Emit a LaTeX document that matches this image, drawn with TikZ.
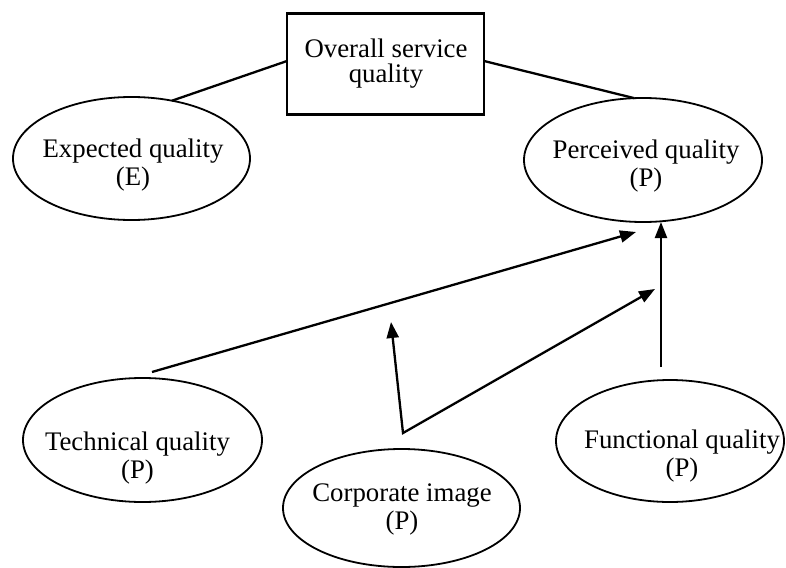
\documentclass[tikz,border=0pt]{standalone}
\usepackage{fontspec}
\setmainfont{Liberation Serif}
\usetikzlibrary{shapes.geometric,arrows.meta}
\begin{document}
\begin{tikzpicture}[x=1pt,y=-1pt,
  ell/.style={draw, ellipse, line width=1.8pt, inner sep=0pt, outer sep=0pt},
  txt/.style={align=center, font=\fontsize{26.8}{28}\selectfont, inner sep=0pt},
  conn/.style={line width=2.3pt},
  tip/.style={-{Triangle[length=16pt,width=12pt]}},
  arr/.style={conn, tip}]
\useasboundingbox (0,0) rectangle (786,567);
% box
\node[draw, line width=2.5pt, minimum width=197pt, minimum height=101pt, inner sep=0pt, outer sep=0pt] (box) at (385.5,64) {};
\node[txt, font=\fontsize{26.8}{25}\selectfont] (boxt) at (386,63.4) {Overall service\\quality};
% ellipses
\node[ell, minimum width=237pt, minimum height=123pt] (e) at (131.5,158.5) {};
\node[txt] (et) at (133,164.8) {Expected quality\\(E)};
\node[ell, minimum width=238pt, minimum height=124pt] (p) at (643,160) {};
\node[txt] (pt) at (646,165.8) {Perceived quality\\(P)};
\node[ell, minimum width=239pt, minimum height=124pt] (t) at (142.5,440) {};
\node[txt] (tt) at (137.5,457.8) {Technical quality\\(P)};
\node[ell, minimum width=237pt, minimum height=118pt] (c) at (401.5,508) {};
\node[txt] (ct) at (402,509.8) {Corporate image\\(P)};
\node[ell, minimum width=228pt, minimum height=122pt] (f) at (670,441) {};
\node[txt] (ft) at (682,455.8) {Functional quality\\(P)};
% free ends
\coordinate (tstart) at (152,372);
\coordinate (ttip) at (636,232);
\coordinate (capex) at (403,433);
\coordinate (cup) at (391,322);
\coordinate (cright) at (655,289);
\coordinate (fstart) at (661,367);
\coordinate (ftip) at (661,222);
% connectors
\draw[conn] ([yshift=3pt]box.west) -- (e.55.6);
\draw[conn] ([yshift=3pt]box.east) -- (p.98);
\draw[arr] (tstart) -- (ttip);
\draw[conn, {Triangle[length=16pt,width=12pt]}-{Triangle[length=16pt,width=12pt]}] (cup) -- (capex) -- (cright);
\draw[arr] (fstart) -- (ftip);
\end{tikzpicture}
\end{document}
